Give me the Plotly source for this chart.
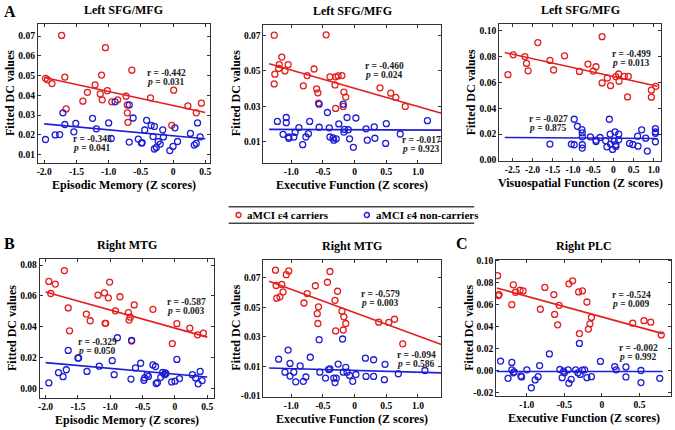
import plotly.graph_objects as go

RED = "rgb(228,30,30)"
BLUE = "rgb(30,30,215)"
FONT = "Liberation Serif"

# ---- Panel A1: Left SFG/MFG vs Episodic Memory ----
a1_red_x = [-1.98, -1.95, -1.88, -1.73, -1.68, -1.66, -1.40, -1.33, -1.21, -1.13, -1.11, -1.10, -1.05,
            -1.02, -0.95, -0.86, -0.73, -0.71, -0.71, -0.70, -0.64, -0.35, -0.02, 0.01, 0.23, 0.36, 0.44]
a1_red_y = [0.0486, 0.0479, 0.0459, 0.0703, 0.0492, 0.0331, 0.0370, 0.0415, 0.0453, 0.0407, 0.0502, 0.0377,
            0.0641, 0.0423, 0.0367, 0.0377, 0.0395, 0.0351, 0.0311, 0.0263, 0.0527, 0.0387, 0.0248, 0.0426,
            0.0346, 0.0311, 0.0360]
a1_blue_x = [-1.98, -1.83, -1.76, -1.71, -1.68, -1.54, -1.51, -1.25, -1.19, -1.00, -0.96, -0.90, -0.68,
             -0.68, -0.62, -0.54, -0.49, -0.48, -0.44, -0.41, -0.34, -0.31, -0.29, -0.29, -0.26, -0.23,
             -0.20, -0.16, -0.15, -0.05, 0.00, 0.03, 0.07, 0.27, 0.33, 0.36, 0.38, 0.42]
a1_blue_y = [0.0176, 0.0199, 0.0201, 0.0311, 0.0252, 0.0215, 0.0258, 0.0283, 0.0230, 0.0260, 0.0181, 0.0367,
             0.0351, 0.0163, 0.0285, 0.0178, 0.0158, 0.0160, 0.0224, 0.0273, 0.0247, 0.0191, 0.0242, 0.0128,
             0.0136, 0.0166, 0.0153, 0.0225, 0.0189, 0.0120, 0.0141, 0.0235, 0.0166, 0.0207, 0.0148, 0.0156,
             0.0260, 0.0189]
a1_fit_x = [-2.0, 0.5]
a1_fit_red = [0.0490, 0.0313]
a1_fit_blue = [0.0255, 0.0180]

# ---- Panel A2: Left SFG/MFG vs Executive Function ----
a2_red_x = [-1.27, -1.27, -1.26, -1.19, -1.20, -1.15, -1.10, -1.05, -0.81, -0.75, -0.64, -0.60, -0.58,
            -0.57, -0.45, -0.39, -0.31, -0.30, -0.30, -0.26, -0.20, -0.18, -0.17, -0.14, 0.40, 0.57, 0.65, 0.80]
a2_red_y = [0.0700, 0.0426, 0.0481, 0.0535, 0.0513, 0.0577, 0.0499, 0.0534, 0.0415, 0.0473, 0.0510, 0.0398,
            0.0376, 0.0318, 0.0702, 0.0466, 0.0420, 0.0466, 0.0288, 0.0471, 0.0473, 0.0299, 0.0380, 0.0352,
            0.0404, 0.0374, 0.0350, 0.0299]
a2_blue_x = [-1.22, -1.13, -1.08, -1.08, -1.04, -1.04, -0.96, -0.94, -0.88, -0.82, -0.77, -0.73, -0.71,
             -0.56, -0.56, -0.43, -0.40, -0.39, -0.34, -0.33, -0.29, -0.25, -0.18, -0.17, -0.16, -0.12,
             -0.10, -0.08, -0.02, 0.02, 0.18, 0.20, 0.31, 0.32, 0.50, 0.49, 0.72, 1.15]
a2_blue_y = [0.0215, 0.0142, 0.0208, 0.0237, 0.0127, 0.0120, 0.0127, 0.0153, 0.0180, 0.0084, 0.0127, 0.0146,
             0.0215, 0.0312, 0.0182, 0.0265, 0.0179, 0.0127, 0.0122, 0.0109, 0.0117, 0.0201, 0.0312, 0.0155,
             0.0170, 0.0237, 0.0168, 0.0117, 0.0069, 0.0234, 0.0173, 0.0109, 0.0184, 0.0120, 0.0202, 0.0091,
             0.0144, 0.0219]
a2_fit_x = [-1.35, 1.37]
a2_fit_red = [0.0539, 0.0261]
a2_fit_blue = [0.0170, 0.0166]

# ---- Panel A3: Left SFG/MFG vs Visuospatial Function ----
a3_red_x = [-2.61, -2.48, -2.19, -2.15, -2.11, -1.87, -1.57, -1.48, -1.21, -0.84, -0.63, -0.50, -0.43,
            -0.28, -0.28, -0.15, -0.07, 0.06, 0.13, 0.14, 0.27, 0.37, 0.35, 0.94, 0.94, 1.05]
a3_red_y = [0.0660, 0.0813, 0.0800, 0.0747, 0.0690, 0.0908, 0.0770, 0.0696, 0.0806, 0.0685, 0.0742, 0.0688,
            0.0721, 0.0954, 0.0596, 0.0634, 0.0575, 0.0645, 0.0665, 0.0609, 0.0647, 0.0647, 0.0488, 0.0540,
            0.0486, 0.0570]
a3_blue_x = [-1.57, -1.04, -0.97, -0.97, -0.89, -0.78, -0.77, -0.77, -0.77, -0.77, -0.57, -0.43, -0.43,
             -0.33, -0.19, -0.16, -0.10, -0.08, -0.07, -0.02, 0.02, 0.06, 0.06, 0.04, 0.13, 0.13, 0.40,
             0.48, 0.60, 0.61, 0.70, 0.80, 0.84, 1.04, 1.04, 1.04, 1.04]
a3_blue_y = [0.0123, 0.0123, 0.0315, 0.0118, 0.0261, 0.0235, 0.0210, 0.0179, 0.0118, 0.0092, 0.0179, 0.0153,
             0.0143, 0.0174, 0.0148, 0.0102, 0.0315, 0.0200, 0.0123, 0.0082, 0.0146, 0.0105, 0.0118, 0.0217,
             0.0200, 0.0156, 0.0128, 0.0120, 0.0184, 0.0107, 0.0233, 0.0169, 0.0069, 0.0243, 0.0217, 0.0207,
             0.0141]
a3_fit_x = [-2.69, 1.09]
a3_fit_red = [0.0831, 0.0570]
a3_fit_blue = [0.0174, 0.0166]

# ---- Panel B1: Right MTG vs Episodic Memory ----
b1_red_x = [-1.95, -1.92, -1.85, -1.71, -1.65, -1.63, -1.37, -1.31, -1.19, -1.09, -1.08, -1.07, -1.03,
            -1.01, -0.85, -0.92, -0.72, -0.71, -0.69, -0.67, -0.63, -0.34, -0.04, 0.03, 0.23, 0.35, 0.44]
b1_red_y = [0.0694, 0.0616, 0.0677, 0.0764, 0.0523, 0.0375, 0.0483, 0.0440, 0.0605, 0.0620, 0.0423, 0.0423,
            0.0588, 0.0690, 0.0595, 0.0504, 0.0493, 0.0444, 0.0463, 0.0309, 0.0542, 0.0514, 0.0292, 0.0421,
            0.0392, 0.0349, 0.0360]
b1_blue_x = [-1.95, -1.80, -1.73, -1.68, -1.65, -1.50, -1.49, -1.36, -1.17, -0.97, -0.94, -0.89, -0.68,
             -0.67, -0.61, -0.53, -0.48, -0.47, -0.43, -0.41, -0.34, -0.30, -0.29, -0.27, -0.22, -0.19,
             -0.16, -0.15, -0.14, -0.05, 0.00, 0.03, 0.07, 0.27, 0.32, 0.36, 0.39, 0.42]
b1_blue_y = [0.0038, 0.0104, 0.0078, 0.0123, 0.0248, 0.0199, 0.0199, 0.0112, 0.0146, 0.0182, 0.0091, 0.0330,
             0.0063, 0.0313, 0.0135, 0.0165, 0.0055, 0.0070, 0.0091, 0.0080, 0.0154, 0.0144, 0.0034, 0.0040,
             0.0074, 0.0106, 0.0091, 0.0102, 0.0097, 0.0044, 0.0049, 0.0190, 0.0066, 0.0091, 0.0070, 0.0032,
             0.0112, 0.0053]
b1_fit_x = [-2.0, 0.5]
b1_fit_red = [0.0626, 0.0334]
b1_fit_blue = [0.0169, 0.0076]

# ---- Panel B2: Right MTG vs Executive Function ----
b2_red_x = [-1.25, -1.24, -1.23, -1.18, -1.15, -1.13, -1.08, -1.04, -0.80, -0.75, -0.62, -0.59, -0.57,
            -0.58, -0.43, -0.39, -0.31, -0.30, -0.27, -0.20, -0.18, -0.17, -0.14, 0.38, 0.54, 0.63, 0.76]
b2_red_y = [0.0753, 0.0649, 0.0563, 0.0572, 0.0656, 0.0605, 0.0722, 0.0748, 0.0530, 0.0594, 0.0647, 0.0458,
            0.0504, 0.0391, 0.0671, 0.0744, 0.0548, 0.0341, 0.0610, 0.0475, 0.0347, 0.0436, 0.0391, 0.0400,
            0.0398, 0.0420, 0.0253]
b2_blue_x = [-1.20, -1.05, -1.10, -1.02, -1.02, -0.96, -0.93, -0.86, -0.81, -0.77, -0.70, -0.56, -0.55,
             -0.46, -0.41, -0.39, -0.33, -0.31, -0.29, -0.26, -0.19, -0.18, -0.14, -0.12, -0.08, -0.03,
             0.02, 0.17, 0.18, 0.30, 0.30, 0.48, 0.47, 0.69, 1.11]
b2_blue_y = [0.0149, 0.0211, 0.0061, 0.0120, 0.0034, 0.0061, -0.0005, 0.0103, -0.0001, 0.0028, 0.0162, 0.0281,
             0.0061, 0.0021, 0.0079, 0.0083, 0.0021, -0.0010, 0.0021, 0.0116, 0.0286, 0.0061, 0.0094, 0.0061,
             0.0039, -0.0001, 0.0045, 0.0156, 0.0032, 0.0145, 0.0032, 0.0114, 0.0010, 0.0050, 0.0072]
b2_fit_x = [-1.35, 1.37]
b2_fit_red = [0.0678, 0.0248]
b2_fit_blue = [0.0089, 0.0056]

# ---- Panel C: Right PLC vs Executive Function ----
c_red_x = [-1.39, -1.38, -1.37, -1.20, -1.18, -1.15, -1.09, -1.05, -0.82, -0.76, -0.64, -0.63, -0.59,
           -0.57, -0.44, -0.39, -0.31, -0.26, -0.20, -0.30, -0.18, -0.16, -0.14, 0.41, 0.56, 0.65, 0.79]
c_red_y = [0.0863, 0.0682, 0.0691, 0.0599, 0.0780, 0.0712, 0.0730, 0.0724, 0.0557, 0.0756, 0.0691, 0.0510,
           0.0415, 0.0593, 0.0789, 0.0816, 0.0715, 0.0724, 0.0623, 0.0335, 0.0376, 0.0424, 0.0483, 0.0430,
           0.0453, 0.0439, 0.0323]
c_blue_x = [-1.35, -1.25, -1.20, -1.20, -1.18, -1.17, -1.08, -1.07, -1.00, -0.94, -0.89, -0.85, -0.83,
            -0.70, -0.56, -0.53, -0.51, -0.50, -0.45, -0.44, -0.41, -0.35, -0.32, -0.30, -0.29, -0.26,
            -0.23, -0.20, -0.14, -0.02, 0.17, 0.19, 0.32, 0.32, 0.52, 0.52, 0.77]
c_blue_y = [0.0085, -0.0072, 0.0073, 0.0005, -0.0022, -0.0013, -0.0051, -0.0060, 0.0005, -0.0158, -0.0087,
            -0.0057, 0.0044, 0.0150, 0.0008, -0.0066, -0.0007, -0.0022, 0.0005, -0.0117, -0.0081, 0.0005,
            -0.0022, 0.0246, -0.0037, 0.0002, 0.0005, -0.0066, -0.0057, 0.0082, 0.0035, 0.0005, 0.0032,
            -0.0060, -0.0001, -0.0111, -0.0072]
c_fit_x = [-1.40, 0.81]
c_fit_red = [0.0750, 0.0335]
c_fit_blue = [-0.0010, -0.0010]

stats = {
    "a1": (("r = -0.442", "0.031"), ("r = -0.343", "0.041")),
    "a2": (("r = -0.460", "0.024"), ("r = -0.017", "0.923")),
    "a3": (("r = -0.499", "0.013"), ("r = -0.027", "0.875")),
    "b1": (("r = -0.587", "0.003"), ("r = -0.329", "0.050")),
    "b2": (("r = -0.579", "0.003"), ("r = -0.094", "0.586")),
    "c": (("r = -0.524", "0.009"), ("r = -0.002", "0.992")),
}

W, H = 675, 430


def px(x):
    return x / W


def py(y):
    return 1 - y / H


def bold(labels):
    return [f"<b>{t}</b>" for t in labels]


panels = [
    dict(key="a1", xs=(36, 209), ys=(20, 162),
         red=(a1_red_x, a1_red_y), blue=(a1_blue_x, a1_blue_y), fit=(a1_fit_x, a1_fit_red, a1_fit_blue),
         xr=[-2.10, 0.57], xt=[-2.0, -1.5, -1.0, -0.5, 0, 0.5], xtt=["-2.0", "-1.5", "-1.0", "-0.5", "0", "0.5"],
         yr=[0.0059, 0.0763], yt=[0.01, 0.02, 0.03, 0.04, 0.05, 0.06, 0.07],
         ytt=["0.01", "0.02", "0.03", "0.04", "0.05", "0.06", "0.07"],
         title="Left SFG/MFG", xtitle="Episodic Memory (Z scores)",
         spos=((-0.43, 0.0489), (-1.59, 0.0157))),
    dict(key="a2", xs=(263, 442), ys=(21, 162),
         red=(a2_red_x, a2_red_y), blue=(a2_blue_x, a2_blue_y), fit=(a2_fit_x, a2_fit_red, a2_fit_blue),
         xr=[-1.44, 1.37], xt=[-1.0, -0.5, 0, 0.5, 1.0], xtt=["-1.0", "-0.5", "0", "0.5", "1.0"],
         yr=[-0.0017, 0.076], yt=[0.01, 0.03, 0.05, 0.07], ytt=["0.01", "0.03", "0.05", "0.07"],
         title="Left SFG/MFG", xtitle="Executive Function (Z scores)",
         spos=((0.14, 0.0499), (0.71, 0.0084))),
    dict(key="a3", xs=(500, 663), ys=(20, 160),
         red=(a3_red_x, a3_red_y), blue=(a3_blue_x, a3_blue_y), fit=(a3_fit_x, a3_fit_red, a3_fit_blue),
         xr=[-2.83, 1.18], xt=[-2.5, -2.0, -1.5, -1.0, -0.5, 0, 0.5, 1.0],
         xtt=["-2.5", "-2.0", "-1.5", "-1.0", "-0.5", "0", "0.5", "1.0"],
         yr=[-0.0005, 0.1055], yt=[0.0, 0.02, 0.04, 0.06, 0.08, 0.10],
         ytt=["0.00", "0.02", "0.04", "0.06", "0.08", "0.10"],
         title="Left SFG/MFG", xtitle="Visuospatial Function (Z scores)",
         spos=((-0.08, 0.0788), (-2.13, 0.0284))),
    dict(key="b1", xs=(38, 213), ys=(260, 402),
         red=(b1_red_x, b1_red_y), blue=(b1_blue_x, b1_blue_y), fit=(b1_fit_x, b1_fit_red, b1_fit_blue),
         xr=[-2.09, 0.60], xt=[-2.0, -1.5, -1.0, -0.5, 0, 0.5], xtt=["-2.0", "-1.5", "-1.0", "-0.5", "0", "0.5"],
         yr=[-0.0057, 0.0842], yt=[0.0, 0.02, 0.04, 0.06, 0.08], ytt=["0.00", "0.02", "0.04", "0.06", "0.08"],
         title="Right MTG", xtitle="Episodic Memory (Z scores)",
         spos=((-0.15, 0.0535), (-1.53, 0.0275))),
    dict(key="b2", xs=(263, 442), ys=(261, 401),
         red=(b2_red_x, b2_red_y), blue=(b2_blue_x, b2_blue_y), fit=(b2_fit_x, b2_fit_red, b2_fit_blue),
         xr=[-1.44, 1.37], xt=[-1.0, -0.5, 0, 0.5, 1.0], xtt=["-1.0", "-0.5", "0", "0.5", "1.0"],
         yr=[-0.0105, 0.0825], yt=[-0.01, 0.01, 0.03, 0.05, 0.07], ytt=["-0.01", "0.01", "0.03", "0.05", "0.07"],
         title="Right MTG", xtitle="Executive Function (Z scores)",
         spos=((0.07, 0.0561), (0.63, 0.0145))),
    dict(key="c", xs=(497, 673), ys=(261, 400),
         red=(c_red_x, c_red_y), blue=(c_blue_x, c_blue_y), fit=(c_fit_x, c_fit_red, c_fit_blue),
         xr=[-1.41, 0.92], xt=[-1.0, -0.5, 0, 0.5], xtt=["-1.0", "-0.5", "0", "0.5"],
         yr=[-0.023, 0.101], yt=[-0.02, 0.0, 0.02, 0.04, 0.06, 0.08, 0.10],
         ytt=["-0.02", "0.00", "0.02", "0.04", "0.06", "0.08", "0.10"],
         title="Right PLC", xtitle="Executive Function (Z scores)",
         spos=((0.106, 0.0647), (0.207, 0.0165))),
]

fig = go.Figure()
annotations = []
shapes = []
tick_font = dict(family=FONT, size=9.5, color="black")


def label(text, x, y, size, angle=0, xanchor="center"):
    return dict(text=f"<b>{text}</b>", x=px(x), y=py(y), xref="paper", yref="paper", showarrow=False,
                xanchor=xanchor, yanchor="middle", textangle=angle,
                font=dict(family=FONT, size=size, color="black"))


for i, p in enumerate(panels, start=1):
    xa = "x" if i == 1 else f"x{i}"
    ya = "y" if i == 1 else f"y{i}"
    for (xv, yv), col in ((p["red"], RED), (p["blue"], BLUE)):
        fig.add_trace(go.Scatter(
            x=xv, y=yv, mode="markers", xaxis=xa, yaxis=ya, showlegend=False,
            marker=dict(symbol="circle-open", size=6, color=col, line=dict(width=1.3, color=col)),
        ))
    fx, fr, fb = p["fit"]
    for yv, col in ((fr, RED), (fb, BLUE)):
        fig.add_trace(go.Scatter(x=fx, y=yv, mode="lines", xaxis=xa, yaxis=ya, showlegend=False,
                                 line=dict(color=col, width=1.6)))

    axis_common = dict(showgrid=False, zeroline=False, showline=True, linecolor="#333", linewidth=1,
                       mirror="ticks", ticks="inside", ticklen=3, tickcolor="#333", tickfont=tick_font)
    fig.update_layout(**{
        ("xaxis" if i == 1 else f"xaxis{i}"): dict(
            domain=[px(p["xs"][0]), px(p["xs"][1])], range=p["xr"], anchor=ya,
            tickvals=p["xt"], ticktext=bold(p["xtt"]), **axis_common),
        ("yaxis" if i == 1 else f"yaxis{i}"): dict(
            domain=[py(p["ys"][1]), py(p["ys"][0])], range=p["yr"], anchor=xa,
            tickvals=p["yt"], ticktext=bold(p["ytt"]), **axis_common),
    })

    cx = (p["xs"][0] + p["xs"][1]) / 2
    annotations.append(label(p["title"], cx, p["ys"][0] - 14, 12))
    annotations.append(label(p["xtitle"], cx, p["ys"][1] + 23, 12))
    annotations.append(label("Fitted DC values", p["xs"][0] - 28, (p["ys"][0] + p["ys"][1]) / 2, 12, angle=-90))
    for (r_txt, p_txt), (sx, sy) in zip(stats[p["key"]], p["spos"]):
        for txt, shift in ((f"<b>{r_txt}</b>", 4.5), (f"<b><i>p</i> = {p_txt}</b>", -4.5)):
            annotations.append(dict(text=txt, x=sx, y=sy, yshift=shift, xref=xa, yref=ya,
                                    xanchor="left", yanchor="middle", showarrow=False,
                                    font=dict(family=FONT, size=9.5, color="#222")))

# panel letters
for letter, lx, ly in (("A", 8, 8), ("B", 8, 245), ("C", 463, 245)):
    annotations.append(label(letter, lx, ly, 16))

# shared legend
for ly in (207, 224):
    shapes.append(dict(type="line", xref="paper", yref="paper", x0=px(228), x1=px(475), y0=py(ly), y1=py(ly),
                       line=dict(color="#444", width=1.5)))
for cxp, col in ((238, RED), (367, BLUE)):
    shapes.append(dict(type="circle", xref="paper", yref="paper", x0=px(cxp - 2.5), x1=px(cxp + 2.5),
                       y0=py(215.5 + 2.5), y1=py(215.5 - 2.5), line=dict(color=col, width=1.4)))
annotations.append(label("aMCI ε4 carriers", 244, 215.5, 11, xanchor="left"))
annotations.append(label("aMCI ε4 non-carriers", 374, 215.5, 11, xanchor="left"))

fig.update_layout(
    width=W, height=H, margin=dict(l=0, r=0, t=0, b=0),
    paper_bgcolor="white", plot_bgcolor="white",
    annotations=annotations, shapes=shapes, showlegend=False,
)

# the page body has a default 8px margin; drop it so the figure sits at the window's corner
fig.write_html("out.html", config={"displayModeBar": False},
               post_script="document.body.style.margin='0';")
